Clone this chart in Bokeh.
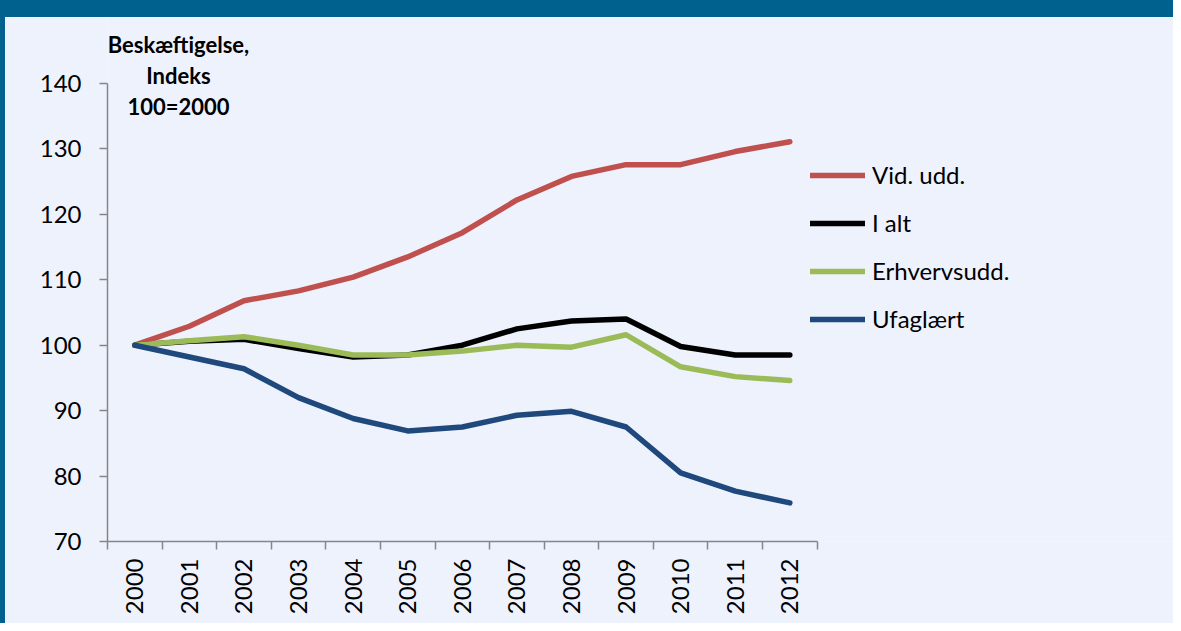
import math
from bokeh.plotting import figure
from bokeh.models import (ColumnDataSource, FixedTicker, Legend, LegendItem,
                          Label, Range1d)
from bokeh.embed import file_html
from bokeh.resources import INLINE

years = ["2000", "2001", "2002", "2003", "2004", "2005", "2006",
         "2007", "2008", "2009", "2010", "2011", "2012"]
vid_udd = [100, 102.9, 106.8, 108.3, 110.4, 113.5, 117.2, 122.2, 125.8, 127.6, 127.6, 129.6, 131.1]
i_alt = [100, 100.6, 100.9, 99.5, 98.2, 98.5, 100.0, 102.5, 103.7, 104.0, 99.8, 98.5, 98.5]
erhverv = [100, 100.7, 101.3, 100.0, 98.5, 98.5, 99.1, 100.0, 99.7, 101.6, 96.7, 95.2, 94.6]
ufaglaert = [100, 98.2, 96.4, 92.0, 88.8, 86.9, 87.5, 89.3, 89.9, 87.5, 80.5, 77.7, 75.9]

series_names = ["Vid. udd.", "I alt", "Erhvervsudd.", "Ufaglært"]
series_vals = [vid_udd, i_alt, erhverv, ufaglaert]
colors = ["#C0504D", "#000000", "#9BBB59", "#1F497D"]
y_ticks = [70, 80, 90, 100, 110, 120, 130, 140]

BG = "#EEF2FD"
DARK = "#00618E"
FONT = "Lato"

xs = [int(y) for y in years]
x_lo, x_hi = xs[0] - 0.5, xs[-1] + 0.5

p = figure(width=1173, height=623,
           x_range=Range1d(x_lo, x_lo + 19.62), y_range=Range1d(70, 150.09),
           output_backend="svg", toolbar_location=None,
           min_border_left=102, min_border_right=0, min_border_top=0,
           min_border_bottom=99)
p.styles = {"border-top": "17px solid " + DARK, "border-left": "5px solid " + DARK}
p.background_fill_color = BG
p.border_fill_color = BG
p.outline_line_color = None
p.xgrid.visible = False
p.ygrid.visible = False

items = []
for name, vals, col in zip(series_names, series_vals, colors):
    src = ColumnDataSource(dict(x=xs, y=vals))
    r = p.line("x", "y", source=src, line_color=col, line_width=5.5,
               line_cap="round", line_join="round")
    items.append(LegendItem(label=name, renderers=[r]))

for ax in (p.xaxis[0], p.yaxis[0]):
    ax.axis_line_color = "#868686"
    ax.axis_line_width = 1.5
    ax.major_tick_line_color = "#868686"
    ax.major_tick_line_width = 1.5
    ax.minor_tick_line_color = "#868686"
    ax.minor_tick_line_width = 1.5
    ax.major_label_text_font = FONT
    ax.major_label_text_font_size = "24px"
    ax.major_label_text_color = "#000000"

p.yaxis[0].ticker = FixedTicker(ticks=y_ticks)
p.yaxis[0].bounds = (70, 140)
p.yaxis[0].major_tick_out = 8
p.yaxis[0].major_tick_in = 0
p.yaxis[0].minor_tick_line_color = None
p.yaxis[0].major_label_standoff = 18

bounds_x = [x - 0.5 for x in xs] + [x_hi]
p.xaxis[0].ticker = FixedTicker(ticks=xs, minor_ticks=bounds_x)
p.xaxis[0].bounds = (x_lo, x_hi)
p.xaxis[0].major_tick_out = 0
p.xaxis[0].major_tick_in = 0
p.xaxis[0].minor_tick_out = 8
p.xaxis[0].minor_tick_in = 0
p.xaxis[0].major_label_overrides = {x: y for x, y in zip(xs, years)}
p.xaxis[0].major_label_orientation = math.pi / 2
p.xaxis[0].major_label_standoff = 9

legend = Legend(items=items, location=(703, 208), orientation="vertical",
                glyph_width=55, glyph_height=20, label_height=20,
                label_standoff=7, spacing=19, padding=0, margin=0,
                background_fill_alpha=0, border_line_color=None,
                label_text_font=FONT, label_text_font_size="24px",
                label_text_color="#000000")
p.add_layout(legend, "center")

ylab = Label(x=2000.80, y=141.22, text="Beskæftigelse,\nIndeks\n100=2000",
             text_font=FONT, text_font_size="22px", text_font_style="bold",
             text_align="center", text_baseline="middle", text_line_height=1.14,
             text_color="#000000")
p.add_layout(ylab)

open("out.html", "w").write(file_html(p, INLINE))
